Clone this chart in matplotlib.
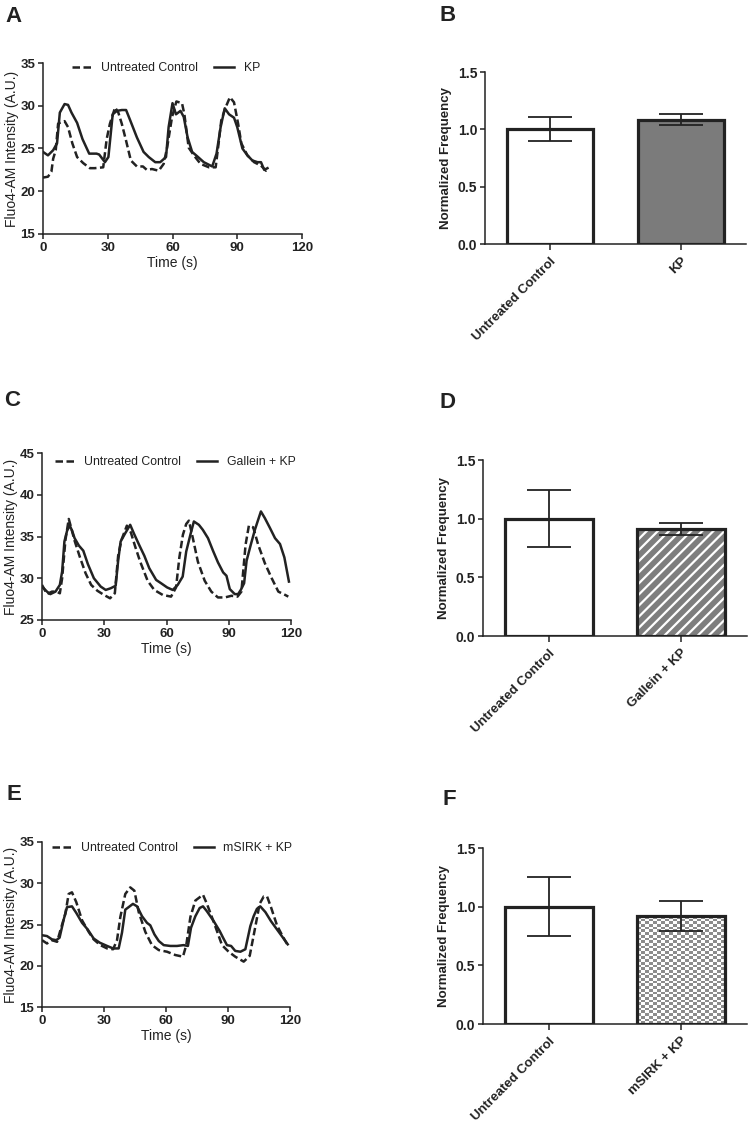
#import necessary packages and modules
import numpy as np
import matplotlib
matplotlib.use("Agg")
import matplotlib.pyplot as plt
from matplotlib.colors import ListedColormap

plt.rcParams['font.family'] = ['Liberation Sans', 'DejaVu Sans']
plt.rcParams['hatch.linewidth'] = 1.6

# ---- traces (time in s, Fluo4-AM intensity in A.U.) ----
a_ctrl_t = [0, 2.3, 3.9, 4.7, 5.9, 7, 8.5, 10, 11.6, 13.6, 15.8, 18.6, 21.7, 24, 27.9,
            29.5, 31, 33.4, 34.9, 36.5, 38.5, 40.7, 43.5, 46.3, 48.1, 50.5, 53.6, 55.9, 57.5, 59.8,
            61.8, 64.4, 65.5, 67.5, 69.9, 73, 76.9, 80, 81.5, 82.6, 84.6, 86.6, 88.5, 90.4, 91.9,
            94.7, 97.8, 101, 103.3, 104.8]
a_ctrl_y = [21.6, 21.7, 22.3, 23.8, 24.8, 27.9, 28.1, 28.2, 27.5, 25.6, 24.0, 23.3, 22.7, 22.7, 22.8,
            26.1, 27.9, 29.8, 29.2, 27.9, 25.9, 23.6, 22.9, 22.9, 22.5, 22.6, 22.4, 23.2, 25.1, 28.7,
            30.5, 30.3, 29.0, 25.1, 24.2, 23.2, 22.8, 22.8, 25.9, 28.3, 29.8, 31.0, 30.4, 27.9, 25.6,
            24.2, 23.4, 23.0, 22.4, 22.6]
a_kp_t = [0, 2.3, 4.7, 6.5, 7.8, 10, 11.6, 13.2, 15.8, 18.3, 21.4, 24.8, 26, 28.7, 30.3,
          32.3, 34.2, 36.5, 38.5, 40.4, 43.5, 46.6, 49, 52, 54.3, 57, 58.2, 60, 61.6, 63.7,
          65.2, 67, 69.1, 71.4, 74.5, 78.4, 80.4, 82.3, 84.2, 86.2, 88.5, 90, 92.4, 94.7, 97,
          99.4, 101, 102.5, 104]
a_kp_y = [24.6, 24.2, 24.8, 25.6, 29.2, 30.2, 30.1, 29.2, 28.0, 26.1, 24.4, 24.4, 24.3, 23.4, 24.0,
          29.0, 29.4, 29.5, 29.5, 28.3, 26.3, 24.6, 24.0, 23.4, 23.4, 24.0, 27.5, 30.3, 29.0, 29.4,
          28.7, 26.3, 24.6, 24.1, 23.4, 22.9, 24.4, 27.5, 29.7, 29.0, 28.6, 27.5, 25.0, 24.2, 23.6,
          23.4, 23.4, 22.5, 22.7]

c_ctrl_t = [0, 2.4, 4.8, 7, 8.6, 9.7, 11.3, 12.9, 14, 15.7, 18.3, 21, 23.7, 26.7, 29.9,
            32.8, 35.1, 36.7, 38.3, 40.9, 42.8, 44.9, 47.3, 50.9, 54.1, 58.2, 62.2, 64.6, 66.2, 67.9,
            69.5, 70.8, 72.7, 75.1, 78.4, 81.6, 84.8, 88.1, 91.3, 94.2, 96.1, 98.1, 99.7, 101.8, 104.2,
            107.4, 110.7, 113.9, 117.2, 118.7]
c_ctrl_y = [29.2, 28.1, 28.4, 28.4, 28.2, 30.0, 34.6, 37.1, 36.1, 34.5, 32.5, 30.6, 29.2, 28.5, 28.0,
            27.6, 28.2, 32.7, 34.6, 36.3, 35.5, 33.8, 32.0, 29.7, 28.6, 28.0, 27.8, 28.9, 32.5, 35.2,
            36.5, 36.9, 34.8, 32.0, 29.7, 28.4, 27.7, 27.7, 27.9, 27.8, 28.4, 34.0, 36.3, 36.1, 34.0,
            31.8, 30.0, 28.4, 28.0, 27.8]
c_kp_t = [0, 2.4, 4, 6.5, 8.6, 9.7, 10.8, 12.1, 13.4, 14.5, 15.7, 17.8, 19.9, 22.1, 25,
          28.3, 30.7, 33.1, 35.5, 36.7, 37.9, 39.9, 42.5, 44.4, 46.8, 49.3, 51.7, 55, 57.4, 60.3,
          63, 65.4, 67.8, 69.5, 71.6, 73.2, 75.6, 77.5, 80, 82.4, 84.8, 87.3, 88.9, 90.5, 92.9,
          94.5, 95.8, 97.4, 98.6, 100.6, 102.6, 103.9, 105.5, 107.4, 109.9, 112.3, 114.7, 116.8, 119]
c_kp_y = [29.0, 28.4, 28.1, 28.4, 29.2, 30.8, 34.4, 35.7, 36.3, 35.7, 34.8, 33.9, 33.3, 31.7, 30.0,
          29.0, 28.6, 28.8, 29.1, 32.1, 34.4, 35.3, 36.4, 35.3, 34.0, 32.7, 31.2, 29.8, 29.4, 28.9,
          28.6, 29.2, 30.2, 33.2, 35.3, 36.8, 36.4, 35.8, 34.8, 33.3, 31.9, 30.7, 30.3, 28.7, 28.1,
          28.1, 28.6, 29.4, 32.1, 34.0, 35.8, 36.8, 38.0, 37.2, 36.0, 34.8, 34.1, 32.5, 29.6]

e_ctrl_t = [0, 2.4, 4.8, 7.3, 8.9, 11.3, 12.9, 14.5, 16.6, 19.4, 22.6, 25, 28.2, 31.5, 34.4,
            36.3, 37.9, 40.3, 42.7, 44.7, 46.8, 50, 53.2, 56.5, 60.5, 64.5, 68.2, 69.8, 71.8, 74.2,
            76.3, 77.9, 79.8, 83.1, 87.1, 90.3, 93.5, 97.6, 100.5, 103.2, 105.3, 107.3, 108.9, 110.8,
            113.7, 116.6, 118.9]
e_ctrl_y = [23.1, 22.7, 23.1, 22.9, 24.3, 26.3, 28.7, 28.9, 27.7, 25.5, 24.1, 23.2, 22.5, 22.1, 22.0,
            23.1, 25.9, 28.7, 29.5, 29.1, 26.5, 24.1, 22.5, 21.9, 21.7, 21.3, 21.1, 22.5, 25.9, 27.9,
            28.3, 28.6, 27.5, 25.3, 22.5, 21.7, 21.1, 20.5, 21.2, 24.7, 27.5, 28.4, 28.4, 27.1,
            24.9, 23.5, 22.5]
e_kp_t = [0, 2.4, 4.8, 6.9, 8.5, 10.5, 12.1, 14.5, 16.6, 19.4, 22.1, 25, 27.9, 31.5, 34.4,
          37.1, 38.7, 40.3, 41.9, 44, 46, 48.4, 50.8, 52.4, 54.4, 56.5, 58.9, 62.1, 65.3, 68.5,
          70.6, 72.1, 74.2, 76.3, 77.9, 79.8, 83.1, 86, 87.6, 89.5, 91.5, 93.5, 96, 98.4, 100.8,
          102.4, 104, 105.6, 108.1, 110.8, 113.7, 116.6, 118.9]
e_kp_y = [23.7, 23.6, 23.2, 23.1, 23.4, 25.6, 27.1, 27.2, 26.4, 25.2, 24.4, 23.3, 22.8, 22.4, 22.1,
          22.1, 24.0, 26.8, 27.1, 27.5, 27.2, 26.0, 25.2, 24.9, 23.8, 23.0, 22.5, 22.4, 22.4, 22.5,
          22.4, 24.6, 26.0, 27.0, 27.2, 26.6, 25.4, 24.2, 23.4, 22.5, 22.4, 21.8, 21.7, 22.0, 24.8,
          26.0, 26.9, 27.2, 26.5, 25.4, 24.4, 23.4, 22.6]

# ---- normalized frequency (mean, error) ----
b_labels = ["Untreated Control", "KP"]
b_means = [1.0, 1.085]
b_errs = [0.105, 0.05]
d_labels = ["Untreated Control", "Gallein + KP"]
d_means = [1.0, 0.915]
d_errs = [0.245, 0.05]
f_labels = ["Untreated Control", "mSIRK + KP"]
f_means = [1.0, 0.92]
f_errs = [0.25, 0.125]

DARK = '#222222'
W, H = 751, 1123

fig = plt.figure(figsize=(W / 100, H / 100), dpi=100)


def px_axes(left, right, top, bottom):
    # build an axes from pixel edges of the reference image
    return fig.add_axes([left / W, 1 - bottom / H, (right - left) / W, (bottom - top) / H])


def style_axes(ax, tick_size):
    for s in ['top', 'right']:
        ax.spines[s].set_visible(False)
    for s in ['left', 'bottom']:
        ax.spines[s].set_linewidth(1.1)
        ax.spines[s].set_color(DARK)
    ax.tick_params(direction='out', length=3.5, width=1.1, color=DARK,
                   labelsize=tick_size, labelcolor=DARK, pad=2)
    for lab in ax.get_xticklabels() + ax.get_yticklabels():
        lab.set_fontweight('bold')


def trace_panel(ax, t1, y1, t2, y2, label2, ylim, yticks, leg_x, leg_y):
    ax.plot(t1, y1, color=DARK, lw=1.8, linestyle=(0, (3, 1.4)), label='Untreated Control')
    ax.plot(t2, y2, color=DARK, lw=1.8, label=label2)
    ax.set_xlim(0, 120)
    ax.set_ylim(*ylim)
    ax.set_xticks([0, 30, 60, 90, 120])
    ax.set_yticks(yticks)
    style_axes(ax, 9.5)
    ax.set_xlabel('Time (s)', fontsize=10, color=DARK, labelpad=2)
    ax.set_ylabel('Fluo4-AM Intensity (A.U.)', fontsize=10, color=DARK, labelpad=1)
    ax.legend(loc='center left', bbox_to_anchor=(leg_x, leg_y), ncol=2, frameon=False,
              fontsize=8.8, handlelength=1.6, handletextpad=0.8, columnspacing=1.3,
              borderpad=0, borderaxespad=0, labelcolor=DARK)


def bar_panel(ax, labels, means, errs, kind):
    x = np.arange(len(labels))
    width = 0.66
    ax.bar(x[0], means[0], width, color='white', zorder=1)
    if kind == 'solid':
        ax.bar(x[1], means[1], width, color='#7b7b7b', zorder=1)
    elif kind == 'hatch':
        ax.bar(x[1], means[1], width, color='#7e7e7e', edgecolor='white', hatch='///', lw=0, zorder=1)
    elif kind == 'checker':
        bar = ax.bar(x[1], means[1], width, color='white', zorder=1)[0]
        cells = np.indices((40, 22)).sum(axis=0) % 2
        im = ax.imshow(cells, cmap=ListedColormap(['#8c8c8c', 'white']), interpolation='nearest',
                       extent=(x[1] - width / 2, x[1] + width / 2, 0, means[1]),
                       aspect='auto', zorder=2)
        im.set_clip_path(bar)
    # thick outlines
    ax.bar(x, means, width, fill=False, edgecolor=DARK, lw=2.3, zorder=3)
    ax.errorbar(x, means, yerr=errs, fmt='none', ecolor=DARK, elinewidth=1.3,
                capsize=16, capthick=1.3, zorder=4)
    ax.set_xlim(-0.5, 1.5)
    ax.set_ylim(0, 1.5)
    ax.set_yticks([0, 0.5, 1.0, 1.5])
    ax.set_yticklabels(['0.0', '0.5', '1.0', '1.5'])
    ax.set_xticks(x)
    ax.set_xticklabels(labels, rotation=45, ha='right', rotation_mode='anchor')
    style_axes(ax, 10)
    ax.tick_params(axis='x', length=4, pad=4, labelsize=9.5)
    ax.set_ylabel('Normalized Frequency', fontsize=9.5, fontweight='bold', color=DARK, labelpad=4)


ax_a = px_axes(43, 302, 63, 234)
trace_panel(ax_a, a_ctrl_t, a_ctrl_y, a_kp_t, a_kp_y, 'KP', (15, 35), [15, 20, 25, 30, 35], 0.112, 0.97)

ax_b = px_axes(485, 746, 72, 244)
bar_panel(ax_b, b_labels, b_means, b_errs, 'solid')

ax_c = px_axes(42, 291, 453, 620)
trace_panel(ax_c, c_ctrl_t, c_ctrl_y, c_kp_t, c_kp_y, 'Gallein + KP', (25, 45), [25, 30, 35, 40, 45], 0.052, 0.946)

ax_d = px_axes(483, 747, 460, 636)
bar_panel(ax_d, d_labels, d_means, d_errs, 'hatch')

ax_e = px_axes(42, 290, 842, 1007)
trace_panel(ax_e, e_ctrl_t, e_ctrl_y, e_kp_t, e_kp_y, 'mSIRK + KP', (15, 35), [15, 20, 25, 30, 35], 0.04, 0.964)

ax_f = px_axes(483, 747, 848, 1024)
bar_panel(ax_f, f_labels, f_means, f_errs, 'checker')

# panel letters
for letter, lx, ly in [('A', 5, 6), ('B', 440, 5), ('C', 4, 390), ('D', 440, 392),
                       ('E', 6, 784), ('F', 442, 789)]:
    fig.text(lx / W, 1 - ly / H, letter, fontsize=16, fontweight='bold', color=DARK, va='top', ha='left')

fig.savefig('out.png', dpi=100)
